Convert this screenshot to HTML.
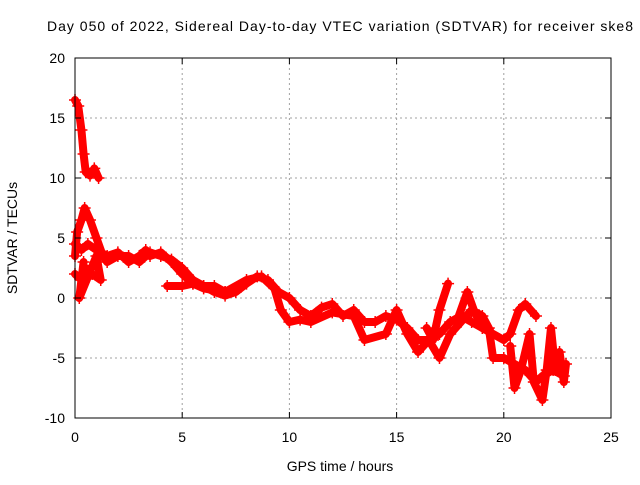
<!DOCTYPE html>
<html><head><meta charset="utf-8"><style>
body{margin:0;background:#fff}
svg{font-family:"Liberation Sans",sans-serif;font-size:14px}
</style></head><body>
<svg id="c" width="640" height="480">
<rect width="640" height="480" fill="#fff"/>
<text x="47" y="31" textLength="586" lengthAdjust="spacing" fill="#000">Day 050 of 2022, Sidereal Day-to-day VTEC variation (SDTVAR) for receiver ske8</text>
<text x="340" y="471" text-anchor="middle">GPS time / hours</text>
<text transform="translate(17,238) rotate(-90)" text-anchor="middle">SDTVAR / TECUs</text>
<g id="grid"></g><g id="marks"></g><g id="axes"></g>
</svg>
<script>
const xTicks=[0,5,10,15,20,25];
const yTicks=[-10,-5,0,5,10,15,20];
const traceA=[[0,16.5],[0.15,16],[0.3,14],[0.4,12],[0.5,10.5],[0.7,10.2],[0.9,10.8],[1.1,10]];
const traceB=[[0,3.5],[0.1,5.5],[0.3,6.5],[0.45,7.5],[0.7,6.5],[1,5],[1.3,3.5],[1.5,3],[2,3.5],[2.5,3.5],[3,3],[3.5,3.8],[4,3.5],[4.5,3.2],[5,2.5],[5.5,1.5],[6,1],[6.5,0.5],[7,0.2],[7.5,0.5],[8,1.2],[8.5,1.8],[9,1.5],[9.5,0.5],[10,0],[10.5,-1],[11,-1.5],[11.5,-0.8],[12,-0.5],[12.5,-1.5],[13,-1],[13.5,-2],[14,-2],[14.5,-1.5],[15,-1.8],[15.5,-2.5],[16,-3.5],[16.5,-3.5],[17,-3],[17.5,-2],[18,-1.5],[18.5,-2],[19,-2.5],[19.5,-3],[20,-3.5],[20.3,-3],[20.7,-1],[21,-0.5],[21.5,-1.5]];
const traceC=[[0,4.5],[0.3,4],[0.6,4.5],[1,4],[1.5,3.5],[2,3.8],[2.5,3],[3,3.5],[3.3,4],[3.5,3.5],[4,3.8],[4.5,3],[5,2],[5.5,1.2],[6,0.8],[7,0.5],[8,1.5],[8.7,1.8],[9.3,0.8],[9.6,-1],[10,-2],[10.5,-1.8],[11,-2],[12,-1.2],[13,-1.5],[13.5,-3.5],[14.5,-3],[15,-1],[15.5,-3],[16,-4.5],[16.5,-3.5],[17,-5],[17.5,-3],[18,-2],[18.5,-1],[19,-1.5],[19.3,-2.5],[19.5,-5],[20,-5],[20.5,-5.5],[21,-6],[21.5,-7],[21.8,-6.5],[22.3,-6],[22.8,-6.5]];
const traceD=[[0,2],[0.3,1.5],[0.5,2.5],[0.8,2],[1.2,1.5],[1.0,3.5],[0.2,0],[0.4,3]];
const traceE=[[4.3,1],[5,1],[5.5,1.2],[6,1],[6.5,1],[7,0.5]];
const traceF=[[16.4,-2.5],[16.7,-3.5],[17,-1],[17.4,1.2]];
const traceG=[[17.8,-2],[18.3,0.5],[18.6,-1],[19,-2.5]];
const traceH=[[20.3,-4],[20.5,-7.5],[20.8,-6],[21.2,-3],[21.4,-7],[21.8,-8.5],[22,-6],[22.2,-2.5],[22.4,-6],[22.6,-4.5],[22.8,-7],[22.9,-5.5]];
const traces=[traceA,traceB,traceC,traceD,traceE,traceF,traceG,traceH];
const X0=75,X1=611,Y0=418,Y1=58;
const sx=v=>X0+(v-0)/25*(X1-X0);
const sy=v=>Y0-(v+10)/30*(Y0-Y1);
const NS='http://www.w3.org/2000/svg';
function mk(t,a,p){const e=document.createElementNS(NS,t);for(const k in a)e.setAttribute(k,a[k]);p.appendChild(e);return e;}
const grid=document.getElementById('grid'),axes=document.getElementById('axes'),marks=document.getElementById('marks');
xTicks.forEach(t=>{const x=sx(t);
 if(t>0&&t<25){const l=mk('line',{x1:x,x2:x,y1:Y1,y2:Y0,stroke:'#a0a0a0','stroke-dasharray':'2,3'},grid);
 
 }
 mk('line',{x1:x,x2:x,y1:Y0,y2:Y0-6,stroke:'#000'},axes);mk('line',{x1:x,x2:x,y1:Y1,y2:Y1+6,stroke:'#000'},axes);
 const tx=mk('text',{x:x,y:Y0+24,'text-anchor':'middle'},axes);tx.textContent=t;
 
 });
yTicks.forEach(t=>{const y=sy(t);
 if(t>-10&&t<20){const l=mk('line',{x1:X0,x2:X1,y1:y,y2:y,stroke:'#a0a0a0','stroke-dasharray':'2,3'},grid);
 
 }
 mk('line',{x1:X0,x2:X0+6,y1:y,y2:y,stroke:'#000'},axes);mk('line',{x1:X1,x2:X1-6,y1:y,y2:y,stroke:'#000'},axes);
 const tx=mk('text',{x:X0-10,y:y+5,'text-anchor':'end'},axes);tx.textContent=t;
 
 });
const fr=mk('rect',{x:X0,y:Y1,width:X1-X0,height:Y0-Y1,fill:'none',stroke:'#000'},axes);


traces.forEach((tr,i)=>{
 const pl=mk('polyline',{points:tr.map(p=>sx(p[0])+','+sy(p[1])).join(' '),fill:'none',stroke:'#f00','stroke-width':8,'stroke-linejoin':'round','stroke-linecap':'round'},marks);
 
 
 tr.forEach(p=>{const x=sx(p[0]),y=sy(p[1]);
  const m=mk('path',{d:`M${x-6},${y}H${x+6}M${x},${y-6}V${y+6}`,stroke:'#f00','stroke-width':1.5},marks);
  
  });
});
</script>
</body></html>
